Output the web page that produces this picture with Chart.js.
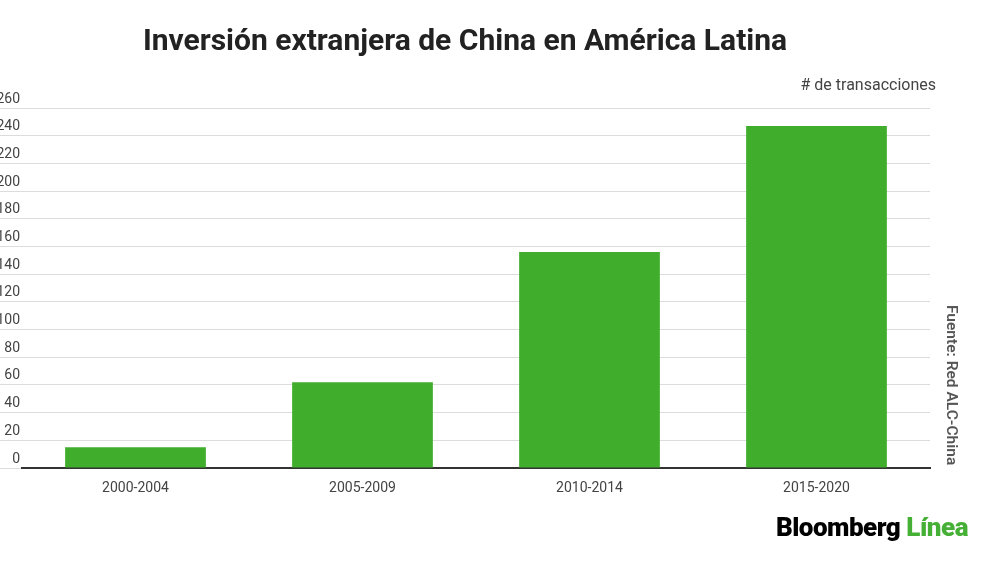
<!DOCTYPE html>
<html>
<head>
<meta charset="utf-8">
<script src="https://cdn.jsdelivr.net/npm/chart.js@4"></script>
<style>
  body { margin: 0; width: 1000px; height: 562px; background: #fff; font-family: Roboto, sans-serif; position: relative; overflow: hidden; }
  #title { position: absolute; top: 22px; left: 0; width: 930px; text-align: center; font-size: 30px; font-weight: bold; color: #222; }
  #unit { position: absolute; top: 75px; right: 64px; font-size: 16px; color: #444; }
  #source { position: absolute; left: 943px; top: 305px; transform-origin: 0 0; transform: rotate(90deg) translateY(-100%); font-size: 15.5px; font-weight: 600; color: #555; white-space: nowrap; }
  #logo { position: absolute; right: 32px; top: 512px; font-size: 26px; font-weight: 900; letter-spacing: -0.5px; }
  #logo span { color: #45b035; }
  #wrap { position: absolute; left: 0; top: 0; width: 1000px; height: 562px; }
</style>
</head>
<body>
<div id="wrap"><canvas id="chart"></canvas></div>
<div id="title">Inversión extranjera de China en América Latina</div>
<div id="unit"># de transacciones</div>
<div id="source">Fuente: Red ALC-China</div>
<div id="logo">Bloomberg <span>Línea</span></div>
<script>
const labels = ['2000-2004', '2005-2009', '2010-2014', '2015-2020'];
const deals = [15, 62, 156, 247];

new Chart(document.getElementById('chart'), {
  type: 'bar',
  data: {
    labels,
    datasets: [{
      data: deals,
      backgroundColor: '#41ad2c',
      categoryPercentage: 1,
      barPercentage: 0.62,
    }]
  },
  options: {
    responsive: true,
    maintainAspectRatio: false,
    animation: false,
    layout: { padding: { left: 0, right: 70, top: 108, bottom: 64 } },
    plugins: { legend: { display: false }, tooltip: { enabled: false } },
    scales: {
      x: {
        afterFit: (axis) => { axis.height = 30; },
        grid: { display: false },
        border: { color: '#333', width: 2 },
        ticks: { color: '#444', font: { family: 'Roboto', size: 14 }, padding: 4 }
      },
      y: {
        min: 0,
        max: 260,
        afterFit: (axis) => { axis.width = 22; },
        grid: { color: '#dcdcdc', tickLength: 22, tickColor: '#dcdcdc' },
        border: { display: false },
        ticks: { stepSize: 20, color: '#444', padding: -20, labelOffset: -9, font: { family: 'Roboto', size: 14 } }
      }
    }
  }
});
</script>
</body>
</html>
